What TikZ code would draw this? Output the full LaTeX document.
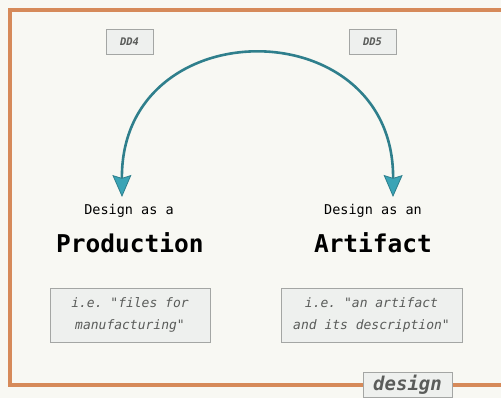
\documentclass[tikz,border=0pt]{standalone}
\usepackage{fontspec}
\setmonofont{DejaVu Sans Mono}
\usetikzlibrary{arrows.meta,positioning}

\definecolor{bgcol}{HTML}{F8F8F3}
\definecolor{framecol}{HTML}{D68A5A}
\definecolor{arccol}{HTML}{2F7F8C}
\definecolor{tipcol}{HTML}{3AA4B6}
\definecolor{boxcol}{HTML}{EEF0EE}
\definecolor{edgecol}{HTML}{A4A6A4}
\definecolor{notecol}{HTML}{5A5C5A}

\tikzset{
	frame line/.style={draw=framecol, line width=4pt, line join=miter},
	ref box/.style={draw=edgecol, fill=boxcol, minimum width=47pt, minimum height=25pt,
		inner sep=0pt, text=notecol, font=\ttfamily\bfseries\itshape\fontsize{10.5}{11}\selectfont},
	sub label/.style={font=\ttfamily\fontsize{13.5}{15}\selectfont},
	main label/.style={font=\ttfamily\bfseries\fontsize{24.5}{26}\selectfont},
	note box/.style={draw=edgecol, fill=boxcol, minimum height=54pt, inner sep=0pt,
		align=center, text=notecol, font=\ttfamily\itshape\fontsize{13}{22}\selectfont},
	tag box/.style={draw=edgecol, fill=boxcol, minimum width=89pt, minimum height=25pt,
		inner sep=0pt, text=notecol, font=\ttfamily\bfseries\itshape\fontsize{19}{20}\selectfont},
	arc arrow/.style={<->, >={Stealth[length=22pt, width=19pt, inset=3pt, line width=0.8pt, fill=tipcol]},
		draw=arccol, line width=2.6pt},
}

\begin{document}
\begin{tikzpicture}[x=1pt, y=-1pt, >=stealth]
		
		\useasboundingbox[fill=bgcol] (0,0) rectangle (501,398);
		\draw [frame line] (503,10) -- (10,10) -- (10,385) -- (503,385);
		
		\node [ref box] (dd4) at (129.5,41.5) {DD4};
		\node [ref box] (dd5) at (372.5,41.5) {DD5};
		
		\node [sub label] (prod-sub) at (129,211) {Design as a};
		\node [main label] (prod) at (130,243) {Production};
		\node [sub label] (art-sub) at (373,211) {Design as an};
		\node [main label] (art) at (373,243) {Artifact};
		
		% ends of the arc, just above the two labels
		\coordinate (prod-in) at (122,197);
		\coordinate (art-in) at (393,197);
		\draw [arc arrow] (prod-in) .. controls (121,9) and (394,9) .. (art-in);
		
		\node [note box, minimum width=160pt] (prod-note) at (130,315)
		{i.e. "files for\\manufacturing"};
		\node [note box, minimum width=181pt] (art-note) at (371.5,315)
		{i.e. "an artifact\\and its description"};
		
		\node [tag box] (tag) at (407.5,385) {design};

		\end{tikzpicture}
\end{document}
